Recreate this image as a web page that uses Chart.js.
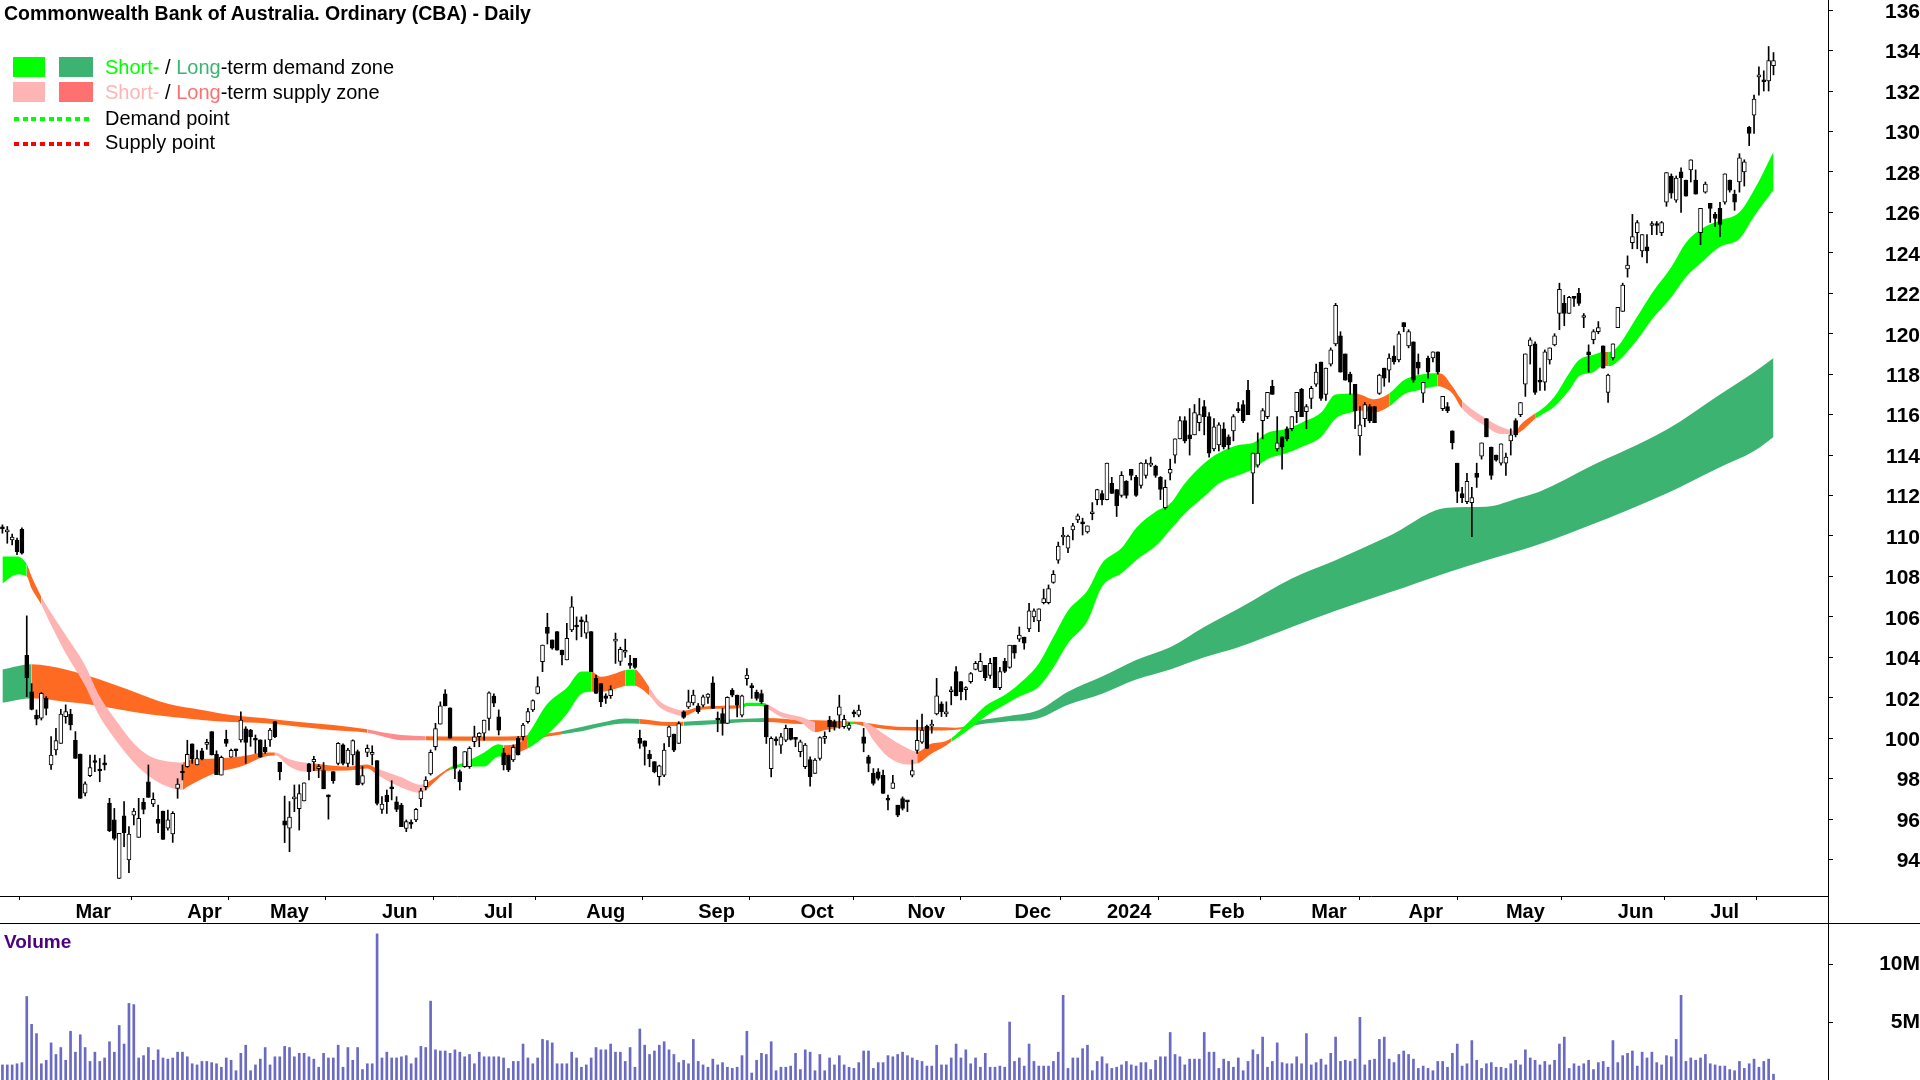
<!DOCTYPE html>
<html>
<head>
<meta charset="utf-8">
<script src="https://cdn.jsdelivr.net/npm/chart.js@4.4.1/dist/chart.umd.min.js"></script>
<style>
html,body{margin:0;padding:0;background:#fff;width:1920px;height:1080px;overflow:hidden;font-family:"Liberation Sans",Arial,sans-serif;}
canvas{position:absolute;left:0;}
.t{position:absolute;white-space:nowrap;line-height:1;color:#000;}
.box{position:absolute;}
.dots{position:absolute;height:4px;}
</style>
</head>
<body>
<canvas id="price" width="1920" height="924" style="top:0"></canvas>
<canvas id="vol" width="1920" height="156" style="top:924px"></canvas>

<div class="t" style="left:4px;top:4px;font-size:19.5px;font-weight:bold;">Commonwealth Bank of Australia. Ordinary (CBA) - Daily</div>

<div class="box" style="left:13px;top:57px;width:32px;height:20px;background:#00FF00"></div>
<div class="box" style="left:59px;top:57px;width:34px;height:20px;background:#3CB371"></div>
<div class="t" style="left:105px;top:57px;font-size:20px;"><span style="color:#00FF00">Short-</span> / <span style="color:#3CB371">Long</span>-term demand zone</div>

<div class="box" style="left:13px;top:82px;width:32px;height:20px;background:#FFB4B4"></div>
<div class="box" style="left:59px;top:82px;width:34px;height:20px;background:#FF7070"></div>
<div class="t" style="left:105px;top:82px;font-size:20px;"><span style="color:#FFB4B4">Short-</span> / <span style="color:#FF7070">Long</span>-term supply zone</div>

<div class="dots" style="left:14px;top:117px;width:78px;background:repeating-linear-gradient(to right,#00FF00 0 5px,transparent 5px 8.7px);"></div>
<div class="t" style="left:105px;top:108px;font-size:20px;">Demand point</div>
<div class="dots" style="left:14px;top:142px;width:78px;background:repeating-linear-gradient(to right,#FF0000 0 5px,transparent 5px 8.7px);"></div>
<div class="t" style="left:105px;top:132px;font-size:20px;">Supply point</div>

<div class="t" style="left:4px;top:932px;font-size:19px;font-weight:bold;color:#4B0082;">Volume</div>

<div style="position:absolute;left:0;top:923px;width:1920px;height:1px;background:#000"></div>
<div style="position:absolute;left:1828px;top:0;width:1px;height:1080px;background:#000"></div>

<script>
// ---------- DATA ----------
const monthIdx   = [15, 38, 55, 78, 99, 120, 143, 164, 186, 208, 227, 248, 269, 289, 309, 332, 351];
const monthNames = ['Mar','Apr','May','Jun','Jul','Aug','Sep','Oct','Nov','Dec','2024','Feb','Mar','Apr','May','Jun','Jul'];
const priceTicks = [94,96,98,100,102,104,106,108,110,112,114,116,118,120,122,124,126,128,130,132,134,136];
const volTicks = [5, 10];
const volTickLabels = ['5M', '10M'];

const opens = [
110.4,110.2,109.81,109.8,110.33,104.1,102.3,101.15,100.99,101.98,
98.68,99.42,99.75,101.07,101.2,99.9,99.22,97.28,98.15,98.85,
98.4,98.76,96.78,95.96,93.07,96.16,93.98,96.2,95.1,96.83,
97.85,96.75,95.99,96.4,95.55,95.27,97.52,98.3,98.6,99.72,
98.68,99.38,99.7,100.33,99.2,98.18,99.95,99.06,99.4,99.92,
100.46,100.4,99.92,99.92,99.55,99.92,100.82,98.81,95.92,95.55,
97.0,96.52,96.9,98.73,98.83,98.5,98.4,97.15,98.35,98.76,
99.67,98.76,99.17,99.34,97.77,99.3,99.2,98.9,96.48,97.19,
97.52,96.86,96.7,95.54,95.76,95.96,97.0,97.6,98.23,99.58,
100.7,102.2,101.5,99.58,98.35,98.6,98.6,99.83,100.08,100.25,
100.98,102.09,101.06,99.28,99.17,98.93,99.99,100.08,100.82,101.4,
102.22,103.79,105.48,104.86,105.27,104.36,103.87,105.35,105.52,105.78,
105.19,105.27,102.96,102.7,102.1,102.1,104.8,103.8,104.25,103.62,
103.95,100.0,99.87,99.2,98.84,98.1,98.18,100.07,100.2,99.74,
101.31,101.55,101.75,101.6,101.64,102.02,102.74,100.98,101.22,100.73,
102.38,102.13,101.14,102.95,102.55,102.27,102.21,101.64,98.5,99.94,
99.66,99.91,100.49,99.95,99.33,98.59,98.95,98.26,99.0,99.99,
100.9,100.82,101.14,100.57,100.49,101.3,101.14,100.07,99.08,98.26,
98.34,98.17,96.95,97.52,96.69,97.02,96.86,98.17,99.4,99.8,
100.6,100.6,101.2,101.7,101.2,102.3,103.3,102.8,102.4,102.8,
103.4,103.3,103.6,103.1,104.0,102.5,103.8,103.5,104.6,104.9,
105.0,105.4,106.0,105.8,106.7,106.7,107.7,108.8,109.95,109.4,
110.3,110.8,110.7,110.2,111.1,111.8,112.1,111.8,112.6,112.3,
112.0,112.7,113.3,112.9,112.5,113.0,113.5,113.45,112.9,111.4,
113.1,114.0,114.8,115.7,115.0,115.0,115.6,116.4,115.9,114.3,
114.5,115.3,114.9,115.2,116.3,116.5,117.2,113.1,113.5,115.7,
115.9,117.4,114.3,114.9,115.3,115.3,116.15,117.25,116.15,116.8,
117.5,118.6,117.0,118.5,119.5,119.9,119.0,118.0,117.5,114.95,
115.8,116.4,116.4,117.05,118.3,118.2,118.9,118.7,120.55,119.4,
119.6,118.6,117.06,118.8,118.8,119.1,116.3,116.4,115.2,113.6,
112.1,111.7,111.65,113.1,113.95,115.8,114.4,114.0,113.6,113.6,
114.7,115.7,116.0,117.5,119.4,119.5,117.7,117.6,118.7,119.45,
121.0,121.5,121.0,121.8,122.0,120.8,119.1,119.7,120.1,119.4,
117.1,118.8,120.3,121.1,123.2,124.5,125.0,124.1,124.3,125.35,
125.4,125.0,126.5,127.8,126.6,128.0,127.6,128.1,127.6,125.0,
127.0,126.45,125.9,126.2,126.5,127.6,126.9,127.5,128.0,130.2,
130.8,132.7,132.5,132.5,133.25];

const highs = [
110.55,110.47,110.1,109.9,110.4,106.05,102.7,101.4,102.26,102.06,
100.08,100.49,101.43,101.65,101.43,100.33,99.22,97.85,99.17,99.17,
99.0,99.17,97.03,96.53,95.3,96.87,95.63,96.53,97.03,97.03,
98.68,97.3,96.7,96.4,96.45,96.37,98.0,98.68,99.9,99.72,
99.42,99.5,99.95,100.33,99.38,99.12,100.4,99.46,99.46,101.3,
100.57,100.44,100.16,99.92,99.92,100.49,100.82,98.81,97.14,96.87,
97.69,97.7,97.8,98.76,99.1,98.7,98.8,97.2,98.35,99.78,
99.72,99.5,99.92,99.42,98.6,99.67,99.63,98.9,97.11,97.44,
97.9,97.11,96.78,95.96,95.96,96.53,97.52,98.1,99.42,100.74,
101.8,102.4,101.5,99.6,98.43,99.34,99.58,100.6,100.28,100.9,
102.3,102.19,101.4,99.5,99.17,99.67,100.08,100.74,101.48,101.9,
103.04,104.61,106.18,104.86,105.27,104.36,105.68,107.0,106.0,106.0,
106.1,105.27,103.12,102.7,102.2,102.6,105.2,104.5,104.9,104.1,
103.95,100.4,99.87,99.4,98.84,98.67,99.74,100.6,100.2,100.82,
101.36,102.38,102.38,101.72,102.13,102.21,103.04,101.3,101.47,102.05,
102.46,102.13,102.13,103.45,102.71,102.38,102.38,101.64,100.07,100.07,
100.24,100.65,100.49,99.99,99.91,99.74,99.08,99.0,100.07,100.32,
101.08,100.9,102.13,101.14,100.76,101.39,101.64,100.49,99.16,98.5,
98.5,98.42,97.19,98.17,96.69,97.1,96.9,98.92,100.9,101.2,
100.65,100.9,102.96,101.8,101.8,102.55,103.54,102.8,102.55,103.25,
103.8,104.2,103.6,103.95,104.0,103.5,103.95,104.6,104.6,105.5,
105.0,106.67,106.4,106.4,107.37,107.58,108.29,109.7,110.43,110.05,
110.63,111.09,110.88,110.5,111.65,112.31,112.25,113.6,112.9,112.3,
113.18,112.74,113.3,113.0,113.63,113.76,113.9,113.5,112.94,112.77,
113.8,114.8,115.9,115.9,116.3,116.5,116.8,116.7,116.1,115.8,
115.6,115.6,115.0,116.0,116.6,116.7,117.7,114.1,115.1,116.3,
117.1,117.7,115.9,114.9,115.4,115.9,117.1,117.3,116.5,117.4,
118.5,118.6,118.3,119.3,121.5,120.1,119.0,118.1,117.5,116.4,
116.6,116.5,116.4,118.0,118.3,119.0,119.4,120.1,120.55,120.2,
119.6,119.0,117.6,118.9,119.1,119.1,116.9,116.6,115.2,113.6,
112.4,113.1,112.4,113.6,114.6,115.8,114.4,114.0,114.55,114.1,
115.3,115.8,116.6,119.0,119.8,119.6,118.3,119.2,119.3,120.0,
122.5,121.9,121.85,121.85,122.25,121.0,119.45,120.2,120.6,119.4,
118.0,119.5,121.3,122.5,123.85,125.9,125.6,124.9,124.9,125.55,
125.55,125.55,127.97,127.9,127.8,128.2,127.6,128.6,128.1,126.2,
127.5,126.45,126.0,126.5,127.9,127.6,127.1,128.9,128.6,130.25,
131.8,133.2,133.0,134.2,133.9];

const lows = [
110.14,109.64,109.56,109.07,109.1,102.06,101.4,100.66,100.9,101.15,
98.46,99.17,99.75,100.74,100.41,99.0,97.03,97.15,98.1,98.35,
97.85,98.43,95.38,94.97,93.07,94.64,93.35,95.71,95.1,96.26,
97.08,96.62,95.33,95.0,95.46,94.85,97.03,97.94,98.56,98.76,
98.68,98.93,99.45,99.17,98.2,98.18,99.6,99.06,99.1,99.8,
98.76,99.6,99.25,99.06,99.25,99.6,100.03,97.94,94.84,94.39,
96.37,95.46,96.9,97.94,98.4,98.05,97.5,96.0,97.77,98.68,
98.68,98.6,98.68,97.69,97.69,99.09,98.68,96.7,96.28,96.28,
96.95,96.37,95.63,95.38,95.54,95.88,96.62,97.44,98.18,99.42,
100.7,101.6,100.0,98.0,97.44,98.56,98.51,99.58,99.58,99.91,
100.4,101.56,100.16,98.43,98.35,98.85,99.17,99.91,100.74,101.32,
102.19,103.29,104.66,104.4,104.36,103.62,103.87,105.27,104.86,105.02,
104.94,103.29,102.22,101.56,101.72,101.97,103.7,103.6,104.0,103.45,
103.45,99.5,98.67,98.59,98.29,97.68,98.1,99.58,99.33,99.74,
100.98,101.47,101.64,101.23,101.55,101.72,101.47,100.32,100.15,100.73,
102.05,101.06,101.06,102.63,101.97,101.88,101.72,99.74,98.09,99.66,
99.25,99.83,99.91,99.58,99.08,98.5,97.63,98.26,98.92,99.74,
100.32,100.4,100.49,100.49,100.4,101.06,101.06,99.33,98.34,97.68,
97.93,97.27,96.45,97.52,96.12,96.45,96.37,98.09,99.25,99.75,
99.5,100.25,101.15,101.07,101.07,101.65,102.09,101.9,101.9,102.72,
103.38,103.29,102.85,102.96,102.5,102.4,103.24,103.46,103.95,104.78,
104.4,105.27,105.76,105.27,106.64,106.64,107.66,108.65,109.56,109.18,
109.8,110.66,110.05,110.14,110.8,111.54,111.54,111.78,112.1,110.96,
111.92,111.87,112.77,111.95,112.36,112.86,113.43,112.9,111.8,111.32,
112.77,113.6,114.8,114.6,114.0,115.0,115.2,115.0,113.9,114.2,
114.2,114.3,114.3,114.7,116.1,115.6,116.0,111.6,113.4,114.8,
115.8,117.0,114.2,113.3,114.7,115.2,115.6,115.9,115.3,116.3,
117.4,116.7,116.7,118.4,119.4,118.1,117.7,117.0,115.3,114.0,
115.4,115.6,115.6,117.0,117.4,117.6,118.5,118.6,120.1,119.3,
117.6,118.0,116.6,117.8,118.6,118.0,116.2,116.1,114.3,111.65,
111.65,111.6,109.97,112.4,113.8,114.9,112.8,113.7,113.5,113.0,
114.0,114.9,115.9,116.9,118.5,117.0,117.2,117.2,118.5,119.4,
120.2,120.4,121.0,121.35,121.4,120.3,118.1,119.5,120.0,118.3,
116.6,118.7,120.3,121.1,122.8,124.2,124.2,123.8,123.5,124.9,
124.9,124.85,126.3,126.7,126.5,126.0,126.8,127.5,126.9,124.4,
126.95,125.5,125.3,124.8,126.4,127.0,126.1,127.0,127.3,129.3,
129.9,131.8,132.0,132.0,132.8];

const closes = [
110.35,110.25,109.94,109.23,109.15,103.0,101.43,100.94,102.22,101.48,
99.17,99.88,101.2,101.32,100.66,99.0,97.03,97.74,98.55,98.8,
98.38,98.68,95.43,95.05,95.3,95.33,95.26,96.4,96.04,96.48,
97.08,96.98,95.79,95.0,95.96,96.29,97.73,98.28,99.21,98.96,
99.0,98.96,99.7,99.17,98.2,99.05,99.75,99.4,99.38,100.9,
99.79,100.08,99.9,99.06,99.34,100.4,100.08,98.35,95.7,96.1,
97.1,97.26,97.8,98.35,98.96,98.5,97.5,97.1,97.9,99.75,
98.76,99.42,99.88,97.69,98.15,99.5,99.22,96.78,96.75,96.86,
97.5,96.48,95.63,95.88,95.75,96.48,97.4,97.93,99.3,100.48,
101.6,101.6,100.0,98.51,97.85,99.34,99.5,100.07,100.25,100.9,
102.25,101.73,100.4,98.68,98.43,99.55,99.17,100.65,101.32,101.86,
102.55,104.61,105.18,104.45,104.36,104.12,104.94,106.5,105.5,105.76,
105.77,103.29,102.22,101.8,101.97,102.4,104.8,104.4,104.35,103.6,
103.5,99.75,99.6,98.99,98.34,98.64,99.41,100.57,99.41,100.73,
101.03,101.8,102.13,101.31,102.05,102.18,101.47,100.9,100.73,102.02,
102.13,101.64,102.1,103.12,102.5,101.97,101.8,100.07,99.99,99.87,
100.07,100.49,99.94,99.94,99.82,99.66,98.1,98.92,100.03,99.99,
100.57,100.57,101.55,100.93,100.65,101.2,101.39,99.74,98.75,97.76,
98.01,97.27,96.94,97.8,96.2,96.53,96.85,98.4,99.9,100.4,
99.5,100.7,102.1,101.3,101.3,102.3,102.1,102.3,102.5,103.2,
103.7,103.8,103.0,103.7,102.5,103.3,103.3,104.6,104.2,105.1,
104.7,106.3,106.3,106.4,106.9,107.4,108.1,109.5,110.0,110.0,
110.5,111.0,110.6,110.5,111.1,112.3,111.8,113.6,112.1,111.5,
113.0,112.0,113.0,112.0,113.6,113.6,113.6,113.0,112.3,112.4,
113.3,114.8,115.7,114.7,114.8,116.1,116.0,115.9,114.1,115.4,
115.5,114.4,114.5,115.9,116.2,115.7,116.0,114.1,114.1,116.2,
117.1,117.0,114.6,114.4,114.8,115.9,117.1,115.9,116.4,117.3,
118.1,116.8,118.3,119.2,121.4,118.1,117.7,117.6,116.2,115.5,
116.5,115.7,115.6,117.96,117.8,118.8,118.6,120.0,120.35,120.1,
117.7,118.3,117.6,118.1,119.1,118.1,116.9,116.2,114.6,112.2,
111.9,112.7,111.9,112.9,114.6,114.9,113.0,113.75,114.55,113.9,
115.0,115.0,116.6,119.0,119.7,117.1,117.6,119.1,119.3,119.9,
122.2,121.0,121.8,121.75,121.5,120.8,118.95,120.1,120.3,118.3,
117.95,119.5,121.3,122.4,123.4,124.8,125.5,124.9,124.1,125.45,
125.35,125.5,127.97,126.95,127.7,127.7,126.8,128.6,126.9,126.2,
127.4,126.2,125.7,125.4,127.9,127.1,126.5,128.7,128.5,129.9,
131.6,132.7,132.45,133.5,133.5];

// volume in millions of shares
const volumes = [
1.3,1.3,1.3,1.4,1.5,7.2,4.8,4.0,1.4,1.7,
3.2,2.2,2.8,1.7,4.2,2.4,3.9,2.8,1.6,2.4,
1.6,1.9,3.3,2.4,4.7,3.1,6.6,6.5,1.9,2.1,
2.8,1.7,2.6,1.9,1.8,1.9,2.4,2.4,2.0,1.4,
1.3,1.6,1.6,1.5,1.4,1.1,1.9,1.7,0.8,2.3,
3.0,0.8,1.3,1.8,2.8,1.3,2.0,2.0,2.9,2.8,
2.0,2.3,2.3,2.0,1.8,1.1,2.3,1.9,1.9,3.0,
1.1,2.8,1.7,2.8,0.9,1.4,1.4,12.6,1.9,2.4,
1.9,1.9,2.0,2.1,1.4,1.9,2.9,2.8,6.8,2.6,
2.5,2.5,2.3,2.6,2.4,2.0,2.2,1.4,2.4,2.0,
2.0,2.0,2.0,1.9,1.0,1.6,1.6,3.1,1.9,1.4,
1.9,3.5,3.4,3.2,1.4,1.4,1.4,2.4,1.9,1.1,
1.3,1.9,2.8,2.6,2.6,3.1,2.4,2.4,1.6,2.8,
1.1,4.4,3.0,2.2,2.5,3.0,3.3,2.6,2.2,1.5,
1.7,1.4,3.5,1.6,1.3,1.1,1.8,1.3,1.5,1.1,
1.0,1.1,2.1,4.2,0.6,1.7,2.3,2.2,3.3,0.8,
1.1,1.1,1.2,2.3,0.9,2.6,2.4,0.8,2.2,0.8,
1.9,1.3,2.1,1.3,1.1,1.0,1.5,2.5,2.5,1.0,
1.5,1.5,2.1,2.0,2.2,2.4,2.1,1.9,1.7,1.6,
1.2,1.2,3.0,1.3,1.3,1.9,3.1,1.9,2.6,1.4,
1.9,1.1,2.3,1.1,1.1,1.2,1.1,5.0,1.6,1.9,
1.2,3.1,1.6,1.2,1.2,1.2,1.6,2.4,7.3,1.0,
1.9,1.9,2.7,3.0,0.8,1.6,2.0,1.4,1.0,1.1,
1.3,1.6,1.3,1.2,1.5,1.5,0.9,1.7,2.0,2.0,
4.1,2.2,2.0,1.3,1.8,1.8,1.8,4.1,2.4,2.4,
1.0,1.8,1.6,1.1,1.9,0.8,1.6,2.6,2.2,3.7,
1.1,1.6,3.2,1.5,1.4,1.4,2.0,1.4,4.0,1.3,
1.5,1.8,1.3,2.3,3.7,1.6,1.7,1.6,1.8,5.4,
1.3,1.7,1.8,3.5,3.7,1.8,1.5,2.2,2.5,2.2,
1.8,1.0,1.2,1.0,0.8,1.6,1.6,1.1,2.3,3.1,
1.2,1.4,3.4,1.7,1.0,1.4,1.5,1.1,1.1,1.0,
1.4,1.7,1.3,2.6,1.9,1.7,1.3,1.6,1.3,1.7,
3.1,3.7,1.0,1.4,1.2,1.4,1.7,0.9,1.5,1.6,
1.1,3.4,1.5,2.1,2.3,2.5,1.2,2.4,1.9,2.4,
1.5,1.3,2.1,2.0,3.5,7.3,1.6,1.9,1.7,1.9,
2.2,1.4,1.3,1.2,1.2,0.9,0.8,1.6,1.0,1.4,
1.8,1.1,1.6,1.8,0.5];

// Short-term zone (bar index, upper, lower, state)
const shortIdx = [0,3,5,6,8,10,13,17,20,23,27,30,34,37,38,44,49,54,56,59,62,64,71,75,77,82,86,87,91,92,95,99,102,103,106,108,112,116,119,121,123,126,128,130,131,133,135,138,140,143,147,152,153,156,157,160,164,167,169,173,175,177,179,182,186,188,191,193,195,199,202,206,209,213,216,219,223,226,230,233,237,240,243,247,250,254,257,260,264,267,271,274,278,279,282,285,288,291,295,296,298,300,305,308,311,312,315,316,319,322,324,327,329,330,331,336,339,343,346,350,353,357,360,364];
const shortHi  = [108.98,108.98,108.6,108.0,107.0,106.2,105.1,103.6,102.06,101.0,99.75,99.15,98.85,98.8,98.9,99.0,99.1,99.3,99.3,98.96,98.8,98.75,98.6,98.7,98.5,98.07,97.7,97.77,98.4,98.56,98.8,99.3,99.7,99.65,99.75,100.2,101.7,102.5,103.3,103.3,103.04,103.2,103.37,103.4,103.2,102.5,101.85,101.47,101.36,101.55,101.6,101.65,101.75,101.75,101.7,101.3,101.06,100.8,100.75,100.73,100.82,100.8,100.57,100.07,99.5,99.33,99.74,99.8,100.0,100.9,101.6,102.14,102.7,103.7,105.0,106.3,107.3,108.65,109.4,110.4,111.2,111.6,112.6,113.6,114.1,114.5,114.6,115.1,115.3,115.6,116.1,117.0,117.05,117.0,116.76,117.05,117.7,117.96,118.05,118.0,117.4,116.7,115.8,115.4,115.2,115.5,116.05,116.2,116.9,118.05,118.7,118.96,119.1,119.1,119.15,120.85,122.0,123.3,124.5,125.3,125.6,126.0,127.1,129.0];
const shortLo  = [107.66,108.1,108.0,107.4,106.6,105.6,104.2,102.6,101.07,100.0,98.8,98.15,97.6,97.45,97.6,98.3,98.6,99.1,99.15,98.6,98.35,98.38,98.4,98.5,98.2,97.57,97.3,97.44,98.3,98.43,98.6,98.6,99.1,99.1,99.3,99.5,100.2,101.2,102.2,102.3,102.3,102.45,102.58,102.6,102.5,102.1,101.55,101.2,101.1,101.39,101.46,101.5,101.6,101.6,101.5,101.06,100.8,100.3,100.4,100.57,100.7,100.6,99.9,99.08,98.7,98.75,99.25,99.5,99.83,100.5,101.07,101.65,102.06,102.55,103.5,104.7,105.8,107.5,108.16,108.8,109.5,110.3,111.1,111.95,112.6,113.0,113.3,113.8,114.1,114.4,114.9,115.8,116.15,116.2,116.1,116.4,117.0,117.2,117.4,117.35,117.05,116.3,115.4,115.04,115.04,115.15,115.8,115.95,116.4,117.2,117.9,118.1,118.4,118.4,118.45,119.7,120.7,121.8,122.8,123.7,124.3,124.7,125.8,127.1];
const shortState = ['G','G','O','O','P','P','P','P','P','P','P','P','P','O','O','O','O','O','P','P','P','O','O','O','P','P','P','O','O','G','G','G','G','O','O','G','G','G','G','O','O','O','G','O','O','P','P','P','O','O','O','G','G','G','P','P','P','O','O','G','O','P','P','P','P','O','O','O','G','G','G','G','G','G','G','G','G','G','G','G','G','G','G','G','G','G','G','G','G','G','G','G','O','O','O','G','G','G','O','O','O','P','P','P','O','O','G','G','G','G','G','G','O','G','G','G','G','G','G','G','G','G','G','G'];

// Long-term zone (bar index, upper, lower, state)
const longIdx = [0,6,13,20,27,34,41,47,54,61,68,75,78,82,87,95,102,109,112,115,119,123,128,131,137,140,147,154,157,164,171,175,177,184,191,196,198,199,206,213,219,226,233,240,247,254,265,274,285,297,305,312,316,326,342,353,360,364];
const longHi  = [103.4,103.66,103.4,102.9,102.3,101.7,101.4,101.15,100.99,100.8,100.65,100.44,100.3,100.16,100.1,100.08,100.08,100.16,100.24,100.35,100.55,100.76,100.98,100.95,100.8,100.82,100.9,100.98,101.0,100.9,100.87,100.82,100.76,100.57,100.55,100.52,100.6,100.74,101.07,101.4,102.3,103.05,103.87,104.5,105.5,106.4,107.9,108.8,110.0,111.4,111.45,111.9,112.2,113.4,115.25,117.0,118.1,118.8];
const longLo  = [101.76,101.98,101.8,101.6,101.3,101.07,100.9,100.8,100.74,100.57,100.4,100.27,100.1,99.9,99.9,99.88,99.88,99.9,100.08,100.2,100.35,100.57,100.73,100.72,100.6,100.62,100.7,100.8,100.8,100.7,100.7,100.7,100.6,100.4,100.38,100.42,100.5,100.6,100.82,100.99,101.65,102.2,102.9,103.4,104.0,104.5,105.5,106.3,107.2,108.2,108.8,109.3,109.6,110.5,112.1,113.4,114.2,114.9];
const longState = ['D','O','O','O','O','O','O','O','O','O','O','S','S','S','O','O','O','O','O','D','D','D','D','O','O','D','D','D','O','O','O','D','O','O','O','O','D','D','D','D','D','D','D','D','D','D','D','D','D','D','D','D','D','D','D','D','D','D'];

const ZONE_COLORS = {G:'#00FF00', D:'#3CB371', P:'#FFB4B4', O:'#FF6A22', S:'#FF8C8C'};

// ---------- CHARTS ----------
Chart.defaults.font.family = '"Liberation Sans", Arial, sans-serif';
Chart.defaults.color = '#000';

const bars = opens.map((_, i) => i);
const X_MIN = -0.5, X_MAX = 375.2;

function noPad(s) { s.paddingTop = 0; s.paddingBottom = 0; s.paddingLeft = 0; s.paddingRight = 0; }

function zoneLine(idx, vals, order, fillSpec, states) {
  const ds = {
    type: 'line',
    data: idx.map((x, k) => ({x: x, y: vals[k]})),
    borderWidth: 0,
    borderColor: 'rgba(0,0,0,0)',
    pointRadius: 0,
    pointHoverRadius: 0,
    cubicInterpolationMode: 'monotone',
    fill: fillSpec,
    order: order
  };
  if (states) {
    ds.backgroundColor = ZONE_COLORS[states[0]];
    ds.segment = { backgroundColor: c => ZONE_COLORS[states[c.p0DataIndex]] };
  }
  return ds;
}

new Chart(document.getElementById('price'), {
  data: {
    datasets: [
      zoneLine(longIdx, longHi, 5, false, null),
      zoneLine(longIdx, longLo, 4, '-1', longState),
      zoneLine(shortIdx, shortHi, 3, false, null),
      zoneLine(shortIdx, shortLo, 2, '-1', shortState),
      {
        type: 'bar',
        data: bars.map(i => ({x: i, y: [lows[i], highs[i]]})),
        backgroundColor: '#000',
        barThickness: 1,
        grouped: false,
        order: 1
      },
      {
        type: 'bar',
        data: bars.map(i => ({x: i, y: [Math.min(opens[i], closes[i]), Math.max(opens[i], closes[i])]})),
        backgroundColor: bars.map(i => closes[i] >= opens[i] ? '#FFFFFF' : '#000000'),
        borderColor: '#000',
        borderWidth: 1,
        borderSkipped: false,
        barThickness: 4,
        minBarLength: 2,
        grouped: false,
        order: 0
      }
    ]
  },
  options: {
    responsive: false,
    animation: false,
    devicePixelRatio: 1,
    layout: { padding: 0 },
    plugins: { legend: { display: false }, tooltip: { enabled: false } },
    scales: {
      x: {
        type: 'linear', position: 'bottom', min: X_MIN, max: X_MAX, offset: false,
        afterBuildTicks: s => { s.ticks = monthIdx.map(v => ({value: v})); },
        afterFit: s => { s.height = 28; noPad(s); },
        ticks: {
          autoSkip: false, maxRotation: 0, minRotation: 0, align: 'start', padding: 2,
          color: '#000', font: { size: 20, weight: 'bold', lineHeight: 1 },
          callback: (v, k) => monthNames[k]
        },
        grid: { drawOnChartArea: false, drawTicks: true, tickLength: 4, color: '#000' },
        border: { display: true, color: '#000', width: 1 }
      },
      y: {
        type: 'linear', position: 'right', min: 92.2, max: 136.5,
        afterBuildTicks: s => { s.ticks = priceTicks.map(v => ({value: v})); },
        afterFit: s => { s.width = 92; noPad(s); },
        ticks: {
          crossAlign: 'far', padding: 48, labelOffset: 2, color: '#000',
          font: { size: 21, weight: 'bold' },
          callback: v => String(v)
        },
        grid: { drawOnChartArea: false, drawTicks: true, tickLength: 5, color: '#000' },
        border: { display: true, color: '#000', width: 1 }
      }
    }
  }
});

new Chart(document.getElementById('vol'), {
  type: 'bar',
  data: {
    datasets: [{
      data: bars.map(i => ({x: i, y: volumes[i]})),
      backgroundColor: '#6A6AC4',
      barThickness: 2
    }]
  },
  options: {
    responsive: false,
    animation: false,
    devicePixelRatio: 1,
    layout: { padding: 0 },
    plugins: { legend: { display: false }, tooltip: { enabled: false } },
    scales: {
      x: { type: 'linear', min: X_MIN, max: X_MAX, display: false, offset: false },
      y: {
        type: 'linear', position: 'right', min: 0, max: 13.45,
        afterBuildTicks: s => { s.ticks = volTicks.map(v => ({value: v})); },
        afterFit: s => { s.width = 92; noPad(s); },
        ticks: {
          crossAlign: 'far', padding: 42, color: '#000',
          font: { size: 21, weight: 'bold' },
          callback: (v, k) => volTickLabels[k]
        },
        grid: { drawOnChartArea: false, drawTicks: true, tickLength: 5, color: '#000' },
        border: { display: true, color: '#000', width: 1 }
      }
    }
  }
});
</script>
</body>
</html>
